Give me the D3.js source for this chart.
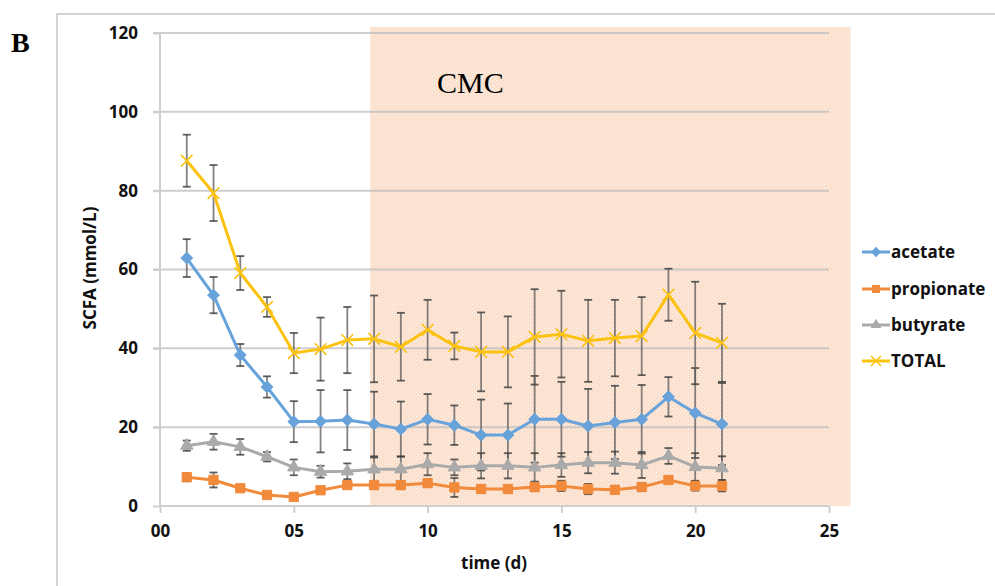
<!DOCTYPE html>
<html><head><meta charset="utf-8">
<script src="https://cdn.jsdelivr.net/npm/d3@7"></script>
<style>
html,body{margin:0;padding:0;background:#fff;}
svg{display:block;}
</style></head>
<body>
<svg id="chart" width="995" height="586"></svg>
<script>
const days = [1,2,3,4,5,6,7,8,9,10,11,12,13,14,15,16,17,18,19,20,21];
const acetate      = [62.9,53.5,38.3,30.2,21.4,21.5,21.8,20.8,19.5,22.0,20.5,18.0,18.0,22.0,22.0,20.3,21.2,22.0,27.7,23.6,20.8];
const acetateSD    = [4.8,4.6,2.8,2.7,5.2,7.9,7.6,8.2,7.0,6.4,5.0,9.0,8.0,11.0,9.5,9.4,9.3,8.7,5.0,11.4,10.4];
const propionate   = [7.3,6.6,4.5,2.8,2.3,4.0,5.3,5.3,5.3,5.8,4.7,4.3,4.3,4.8,5.1,4.3,4.1,4.8,6.6,5.1,5.1];
const propionateSD = [1.0,1.9,0.7,0.8,0.8,0.8,0.8,1.0,1.0,1.0,2.4,0.9,0.9,1.0,1.3,1.3,1.0,1.0,0.8,1.2,1.4];
const butyrate     = [15.3,16.3,15.0,12.5,9.8,8.7,8.8,9.3,9.3,10.6,9.8,10.2,10.2,9.8,10.4,11.0,11.0,10.4,12.7,9.9,9.6];
const butyrateSD   = [1.3,2.0,2.0,1.2,2.0,1.5,2.0,3.0,3.3,2.8,2.0,3.2,3.2,3.6,3.0,2.7,2.8,3.3,2.0,3.5,3.0];
const total        = [87.6,79.4,59.1,50.5,38.8,39.8,42.1,42.4,40.4,44.7,40.6,39.1,39.1,42.9,43.6,41.9,42.6,43.1,53.6,43.9,41.4];
const totalSD      = [6.6,7.1,4.3,2.5,5.1,8.0,8.4,11.0,8.6,7.6,3.4,10.0,9.0,12.1,11.0,10.4,9.7,9.9,6.6,13.0,9.9];
const seriesNames  = ["acetate","propionate","butyrate","TOTAL"];
const xTicks = [0,5,10,15,20,25];
const xTickLabels = ["00","05","10","15","20","25"];
const yTicks = [0,20,40,60,80,100,120];
const shadeRange = [7.85, 25.8];

const colors = {acetate:"#67a3da", propionate:"#f28a3b", butyrate:"#aaaaaa", TOTAL:"#fcc210"};
const symbols = {acetate:d3.symbolDiamond2, propionate:d3.symbolSquare2, butyrate:d3.symbolTriangle2, TOTAL:d3.symbolX};
const markerSize = {acetate:90, propionate:110, butyrate:110, TOTAL:90};

const series = [
  {name:"acetate", vals:acetate, sd:acetateSD},
  {name:"propionate", vals:propionate, sd:propionateSD},
  {name:"butyrate", vals:butyrate, sd:butyrateSD},
  {name:"TOTAL", vals:total, sd:totalSD}
];

const svg = d3.select("#chart");
const x = d3.scaleLinear().domain([0,25]).range([160,829]);
const y = d3.scaleLinear().domain([0,120]).range([506,33]);
const font = "'Open Sans', sans-serif";

// outer frame
svg.append("path").attr("d","M57,586 V14 H995").attr("fill","none").attr("stroke","#d3d3d3").attr("stroke-width",2);

// pattern (low-contrast peach with faint white dots)
const defs = svg.append("defs");
const pat = defs.append("pattern").attr("id","dots").attr("width",4).attr("height",4).attr("patternUnits","userSpaceOnUse");
pat.append("rect").attr("width",4).attr("height",4).attr("fill","#fbe0ce");
pat.append("rect").attr("x",0).attr("y",0).attr("width",1).attr("height",1).attr("fill","#fff8f3");
pat.append("rect").attr("x",2).attr("y",2).attr("width",1).attr("height",1).attr("fill","#fff8f3");

// shaded CMC region
svg.append("rect").attr("x",x(shadeRange[0])).attr("y",27)
  .attr("width",x(shadeRange[1])-x(shadeRange[0])).attr("height",y(0)-27)
  .attr("fill","url(#dots)");

// gridlines
svg.append("g").selectAll("line").data(yTicks.filter(d=>d>0)).join("line")
  .attr("x1",153).attr("x2",x(25)).attr("y1",d=>y(d)).attr("y2",d=>y(d))
  .attr("stroke","#bdbdbd").attr("stroke-opacity",0.75).attr("stroke-width",2);

// y axis
const yAxis = d3.axisLeft(y).tickValues(yTicks).tickSize(7).tickPadding(15).tickFormat(d3.format("d"));
const gy = svg.append("g").attr("transform","translate(160,0)").call(yAxis);
gy.select(".domain").attr("stroke","#cfcfcf").attr("stroke-width",2).attr("d","M0,"+y(120)+"V"+y(0));
gy.selectAll(".tick line").attr("stroke","#cfcfcf").attr("stroke-width",2);
gy.selectAll("text").attr("font-family",font).attr("font-weight","bold").attr("font-size",17).attr("fill","#111");

// x axis
const xAxis = d3.axisBottom(x).tickValues(xTicks).tickSize(7).tickPadding(12).tickFormat((d,i)=>xTickLabels[i]);
const gx = svg.append("g").attr("transform","translate(0,"+y(0)+")").call(xAxis);
gx.select(".domain").attr("stroke","#cfcfcf").attr("stroke-width",2).attr("d","M"+x(0)+",0H"+x(25));
gx.selectAll(".tick line").attr("stroke","#cfcfcf").attr("stroke-width",2);
gx.selectAll("text").attr("font-family",font).attr("font-weight","bold").attr("font-size",17).attr("fill","#111");

// axis titles
svg.append("text").attr("x",494).attr("y",569).attr("text-anchor","middle")
  .attr("font-family",font).attr("font-weight","bold").attr("font-size",17).attr("fill","#111").text("time (d)");
svg.append("text").attr("transform","translate(96,268) rotate(-90)").attr("text-anchor","middle")
  .attr("font-family",font).attr("font-weight","bold").attr("font-size",17).attr("fill","#111").text("SCFA (mmol/L)");

// B and CMC labels
svg.append("text").attr("x",11).attr("y",52).attr("font-family","'Liberation Serif','Times New Roman',serif")
  .attr("font-weight","bold").attr("font-size",28).attr("fill","#000").text("B");
svg.append("text").attr("x",437).attr("y",93).attr("font-family","'Liberation Serif','Times New Roman',serif")
  .attr("font-size",30).attr("fill","#000").text("CMC");

// error bars
const eb = svg.append("g");
series.forEach(s=>{
  const g = eb.append("g");
  const pts = days.map((d,i)=>({d, v:s.vals[i], sd:s.sd[i]}));
  g.selectAll("line.v").data(pts).join("line").attr("class","v")
    .attr("x1",p=>x(p.d)).attr("x2",p=>x(p.d)).attr("y1",p=>y(p.v+p.sd)).attr("y2",p=>y(p.v-p.sd))
    .attr("stroke","#5a5a5a").attr("stroke-width",1.8).attr("opacity",0.75);
  ["top","bot"].forEach(k=>{
    g.selectAll("line."+k).data(pts).join("line").attr("class",k)
      .attr("x1",p=>x(p.d)-4).attr("x2",p=>x(p.d)+4)
      .attr("y1",p=>y(k==="top"?p.v+p.sd:p.v-p.sd)).attr("y2",p=>y(k==="top"?p.v+p.sd:p.v-p.sd))
      .attr("stroke","#3a3a3a").attr("stroke-width",1.8).attr("opacity",0.8);
  });
});

// lines and markers
const line = d3.line().x(p=>x(p.d)).y(p=>y(p.v));
series.forEach(s=>{
  const pts = days.map((d,i)=>({d, v:s.vals[i]}));
  svg.append("path").datum(pts).attr("d",line).attr("fill","none")
    .attr("stroke",colors[s.name]).attr("stroke-width",3).attr("stroke-linejoin","round");
  const sym = d3.symbol().type(symbols[s.name]).size(markerSize[s.name]);
  const mk = svg.append("g").selectAll("path").data(pts).join("path")
    .attr("transform",p=>"translate("+x(p.d)+","+y(p.v)+")").attr("d",sym);
  if (s.name==="TOTAL") mk.attr("fill","none").attr("stroke",colors[s.name]).attr("stroke-width",1.6);
  else mk.attr("fill",colors[s.name]).attr("stroke",colors[s.name]).attr("stroke-width",1);
});

// legend
const legY = [252,289,325,361];
const leg = svg.append("g");
seriesNames.forEach((n,i)=>{
  const g = leg.append("g").attr("transform","translate(0,"+legY[i]+")");
  g.append("line").attr("x1",862).attr("x2",890).attr("y1",0).attr("y2",0).attr("stroke",colors[n]).attr("stroke-width",3);
  const sym = d3.symbol().type(symbols[n]).size(markerSize[n]*0.75);
  const m = g.append("path").attr("transform","translate(876,0)").attr("d",sym);
  if (n==="TOTAL") m.attr("fill","none").attr("stroke",colors[n]).attr("stroke-width",1.5);
  else m.attr("fill",colors[n]);
  g.append("text").attr("x",891).attr("y",6).attr("font-family",font).attr("font-weight","bold")
    .attr("font-size",17).attr("fill","#111").text(n);
});
</script>
</body></html>
